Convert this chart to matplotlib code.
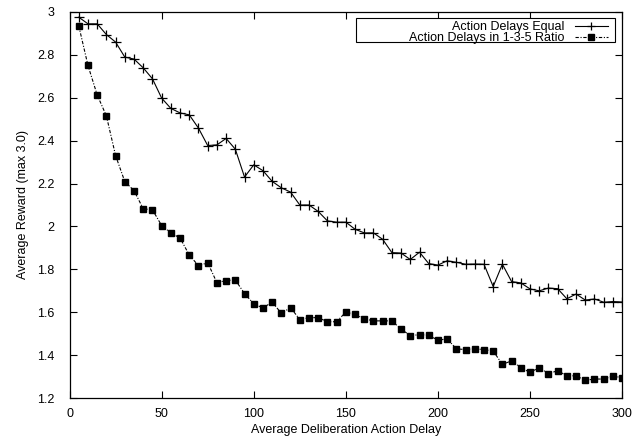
import matplotlib
matplotlib.use("Agg")
import matplotlib.pyplot as plt
from matplotlib.ticker import FormatStrFormatter
from matplotlib.patches import Rectangle

plt.rcParams['font.family'] = ['Liberation Sans', 'DejaVu Sans']

delay = list(range(5, 305, 5))

# Action Delays Equal
equal = [2.975, 2.944, 2.944, 2.894, 2.859, 2.789, 2.78, 2.739, 2.688, 2.598,
         2.55, 2.529, 2.52, 2.458, 2.377, 2.38, 2.41, 2.36, 2.23, 2.287,
         2.26, 2.21, 2.18, 2.16, 2.10, 2.10, 2.07, 2.026, 2.02, 2.02,
         1.987, 1.97, 1.97, 1.94, 1.878, 1.876, 1.846, 1.88, 1.827, 1.82,
         1.84, 1.833, 1.824, 1.825, 1.824, 1.72, 1.824, 1.743, 1.737, 1.709,
         1.70, 1.713, 1.71, 1.663, 1.685, 1.657, 1.662, 1.647, 1.65, 1.648]

# Action Delays in 1-3-5 Ratio
ratio = [2.935, 2.75, 2.613, 2.515, 2.33, 2.209, 2.167, 2.082, 2.078, 2.004,
         1.97, 1.946, 1.867, 1.817, 1.831, 1.738, 1.748, 1.751, 1.687, 1.64,
         1.62, 1.648, 1.595, 1.622, 1.566, 1.575, 1.575, 1.556, 1.556, 1.601,
         1.59, 1.57, 1.56, 1.56, 1.56, 1.522, 1.491, 1.496, 1.493, 1.47,
         1.476, 1.43, 1.426, 1.43, 1.426, 1.42, 1.357, 1.374, 1.342, 1.32,
         1.342, 1.314, 1.328, 1.304, 1.304, 1.283, 1.289, 1.289, 1.303, 1.295]

fig = plt.figure(figsize=(6.44, 4.38), dpi=100)
ax = fig.add_axes([0.108, 0.091, 0.858, 0.882])

ax.plot(delay, equal, color='black', lw=0.8, marker='+', ms=6.5, mew=0.9,
        label='Action Delays Equal')
ax.plot(delay, ratio, color='black', lw=0.8, ls=(0, (3, 1.5, 1, 1.5)),
        marker='s', ms=4.8, label='Action Delays in 1-3-5 Ratio')

ax.set_xlim(0, 300)
ax.set_ylim(1.2, 3.0)
ax.set_xticks(range(0, 301, 50))
ax.set_yticks([1.2, 1.4, 1.6, 1.8, 2.0, 2.2, 2.4, 2.6, 2.8, 3.0])
ax.yaxis.set_major_formatter(FormatStrFormatter('%g'))
ax.tick_params(direction='in', top=True, right=True, length=5, width=0.8,
               labelsize=9)
ax.tick_params(axis='x', pad=7)
ax.tick_params(axis='y', pad=11)
for s in ax.spines.values():
    s.set_linewidth(0.9)

ax.set_xlabel('Average Deliberation Action Delay', fontsize=9, labelpad=3)
ax.set_ylabel('Average Reward (max 3.0)', fontsize=9, labelpad=6)

# gnuplot-style key: wide box, right-aligned labels
ax.add_patch(Rectangle((0.518, 0.923), 0.469, 0.061, transform=ax.transAxes,
                       fill=True, facecolor='white', edgecolor='black',
                       lw=0.8, zorder=4))
leg = ax.legend(loc='upper right', bbox_to_anchor=(0.975, 0.975),
                markerfirst=False, fontsize=9, frameon=False, borderpad=0,
                labelspacing=-0.12, handlelength=2.7, handletextpad=0.8,
                borderaxespad=0, markerscale=0.8)
leg.set_zorder(5)

fig.savefig('out.png', dpi=100)
